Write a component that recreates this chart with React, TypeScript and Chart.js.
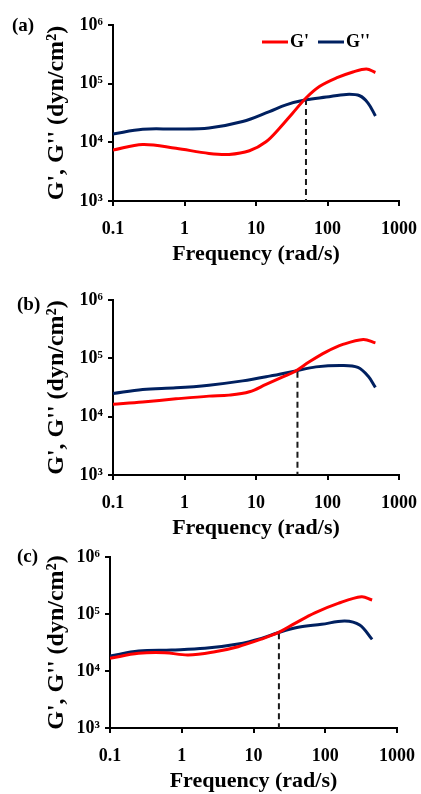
import React, { useEffect, useRef } from "react";
import { Chart, registerables } from "chart.js";

Chart.register(...registerables);

// ---------- shared axis data ----------
const X_TICKS = [0.1, 1, 10, 100, 1000];
const X_TICK_LABELS = ["0.1", "1", "10", "100", "1000"];
const Y_TICKS = [1e3, 1e4, 1e5, 1e6];
const Y_TICK_LABELS = ["10³", "10⁴", "10⁵", "10⁶"];
const SERIES_NAMES = ["G'", "G''"];
const X_TITLE = "Frequency (rad/s)";
const Y_TITLE = "G', G'' (dyn/cm²)";
const PANEL_LABELS = ["(a)", "(b)", "(c)"];

// ---------- panel (a) ----------
const FREQ_A_GP = [0.1, 0.26, 0.76, 2.2, 4.2, 8.1, 13.8, 21.3, 32.5, 50, 78, 133, 227, 350, 468];
const GP_A = [7400, 9200, 7900, 6480, 6230, 7180, 10240, 17400, 31400, 56900, 90000, 125000, 158000, 178000, 155000];
const FREQ_A_GPP = [0.1, 0.26, 0.76, 2.2, 6.5, 15.4, 26.3, 50, 96, 183, 282, 369, 468];
const GPP_A = [13900, 16700, 16900, 17600, 22600, 33500, 43600, 53000, 59000, 65600, 62200, 46700, 28200];
const CROSS_A = [50, 54600];

// ---------- panel (b) ----------
const FREQ_B_GP = [0.1, 0.26, 0.76, 2.2, 4.2, 8.1, 13.8, 23.7, 34.5, 55.7, 96, 164, 316, 468];
const GP_B = [16400, 17900, 20200, 22500, 23400, 26700, 35700, 48200, 58900, 87300, 129000, 173000, 211000, 184000];
const FREQ_B_GPP = [0.1, 0.26, 0.76, 2.2, 6.5, 15.4, 34.5, 69, 164, 266, 369, 468];
const GPP_B = [25000, 29300, 31200, 34700, 41100, 49500, 60300, 71400, 75500, 69800, 49600, 31700];
const CROSS_B = [38, 58700];

// ---------- panel (c) ----------
const FREQ_C_GP = [0.1, 0.25, 0.58, 1.23, 2.9, 6.1, 12.9, 22, 37.8, 71.6, 151, 320, 450];
const GP_C = [16700, 20400, 20900, 19100, 21800, 26700, 36300, 47000, 68600, 105000, 154000, 201000, 176000];
const FREQ_C_GPP = [0.1, 0.25, 0.72, 2.1, 6.1, 12.9, 22, 42, 89, 187, 302, 450];
const GPP_C = [18300, 22400, 23400, 25000, 29800, 37400, 47000, 58400, 65900, 75300, 64100, 35900];
const CROSS_C = [22.6, 45800];

const RED = "#FF0000";
const NAVY = "#002060";
const FONT = "'Liberation Serif', 'Times New Roman', Times, serif";
const W = 421;

type Area = { left: number; top: number; right: number; bottom: number };
type PanelCfg = {
  label: string;
  labelLeft: number;
  labelCenter: number;
  top: number;
  height: number;
  area: Area;
  xTitlePad: number;
  legend: boolean;
  gpX: number[];
  gp: number[];
  gppX: number[];
  gpp: number[];
  cross: number[];
};

const PANELS: PanelCfg[] = [
  {
    label: PANEL_LABELS[0], labelLeft: 12, labelCenter: 25,
    top: 0, height: 266,
    area: { left: 113, top: 25, right: 399, bottom: 201 },
    xTitlePad: 1, legend: true,
    gpX: FREQ_A_GP, gp: GP_A, gppX: FREQ_A_GPP, gpp: GPP_A, cross: CROSS_A,
  },
  {
    label: PANEL_LABELS[1], labelLeft: 17, labelCenter: 304,
    top: 266, height: 275,
    area: { left: 113, top: 34, right: 399, bottom: 209 },
    xTitlePad: 2, legend: false,
    gpX: FREQ_B_GP, gp: GP_B, gppX: FREQ_B_GPP, gpp: GPP_B, cross: CROSS_B,
  },
  {
    label: PANEL_LABELS[2], labelLeft: 17, labelCenter: 556,
    top: 541, height: 253,
    area: { left: 110, top: 16, right: 397, bottom: 187 },
    xTitlePad: 2, legend: false,
    gpX: FREQ_C_GP, gp: GP_C, gppX: FREQ_C_GPP, gpp: GPP_C, cross: CROSS_C,
  },
];

const customLegend = {
  id: "customLegend",
  afterDraw(chart: any, _args: any, opts: any) {
    if (!opts || !opts.show) return;
    const ctx = chart.ctx;
    ctx.save();
    ctx.font = `bold ${opts.fontSize}px ${FONT}`;
    ctx.textBaseline = "middle";
    ctx.textAlign = "left";
    let x = opts.x;
    const y = opts.y;
    chart.data.datasets.slice(0, 2).forEach((ds: any) => {
      ctx.strokeStyle = ds.borderColor;
      ctx.lineWidth = ds.borderWidth;
      ctx.beginPath();
      ctx.moveTo(x, y);
      ctx.lineTo(x + opts.lineLen, y);
      ctx.stroke();
      x += opts.lineLen + opts.gap;
      ctx.fillStyle = "#000";
      ctx.fillText(ds.label, x, y);
      x += ctx.measureText(ds.label).width + opts.itemGap;
    });
    ctx.restore();
  },
};

function Panel({ cfg }: { cfg: PanelCfg }) {
  const ref = useRef<HTMLCanvasElement>(null);
  useEffect(() => {
    const canvas = ref.current;
    if (!canvas) return;
    const { area, height } = cfg;
    const tickFont = { family: FONT, size: 18, weight: "bold" as const };
    const chart = new Chart(canvas, {
      type: "line",
      data: {
        datasets: [
          {
            label: SERIES_NAMES[0],
            data: cfg.gpX.map((x, i) => ({ x, y: cfg.gp[i] })),
            borderColor: RED,
            backgroundColor: RED,
            borderWidth: 3,
            pointRadius: 0,
            tension: 0.35,
            fill: false,
          },
          {
            label: SERIES_NAMES[1],
            data: cfg.gppX.map((x, i) => ({ x, y: cfg.gpp[i] })),
            borderColor: NAVY,
            backgroundColor: NAVY,
            borderWidth: 3,
            pointRadius: 0,
            tension: 0.35,
            fill: false,
          },
          {
            label: "crossover",
            data: [
              { x: cfg.cross[0], y: cfg.cross[1] },
              { x: cfg.cross[0], y: Y_TICKS[0] },
            ],
            borderColor: "#1a1a1a",
            backgroundColor: "#1a1a1a",
            borderWidth: 2,
            borderDash: [6, 4],
            pointRadius: 0,
            tension: 0,
            fill: false,
          },
        ],
      } as any,
      options: {
        responsive: false,
        animation: false,
        devicePixelRatio: 1,
        events: [],
        layout: { padding: { left: 0, top: area.top, right: W - area.right, bottom: 0 } },
        scales: {
          x: {
            type: "logarithmic",
            min: X_TICKS[0],
            max: X_TICKS[X_TICKS.length - 1],
            afterBuildTicks: (s: any) => {
              s.ticks = X_TICKS.map((v) => ({ value: v }));
            },
            afterFit: (s: any) => {
              s.height = height - area.bottom;
              s.paddingLeft = 0;
              s.paddingRight = 0;
            },
            ticks: {
              autoSkip: false,
              maxRotation: 0,
              minRotation: 0,
              padding: 13,
              color: "#000",
              font: tickFont,
              callback: (_v: any, i: number) => X_TICK_LABELS[i],
            },
            grid: { drawOnChartArea: false, drawTicks: true, tickLength: 5, color: "#000", lineWidth: 2 },
            border: { display: true, color: "#000", width: 2 },
            title: {
              display: true,
              text: X_TITLE,
              color: "#000",
              font: { family: FONT, size: 22, weight: "bold", lineHeight: 1 },
              padding: { top: 0, bottom: cfg.xTitlePad },
            },
          },
          y: {
            type: "logarithmic",
            position: "left",
            min: Y_TICKS[0],
            max: Y_TICKS[Y_TICKS.length - 1],
            afterBuildTicks: (s: any) => {
              s.ticks = Y_TICKS.map((v) => ({ value: v }));
            },
            afterFit: (s: any) => {
              s.width = area.left;
              s.paddingTop = 0;
              s.paddingBottom = 0;
            },
            ticks: {
              autoSkip: false,
              padding: 5,
              color: "#000",
              font: tickFont,
              callback: (_v: any, i: number) => Y_TICK_LABELS[i],
            },
            grid: { drawOnChartArea: false, drawTicks: true, tickLength: 5, color: "#000", lineWidth: 2 },
            border: { display: true, color: "#000", width: 2 },
            title: {
              display: true,
              text: Y_TITLE,
              color: "#000",
              font: { family: FONT, size: 24, weight: "bold", lineHeight: 1 },
              padding: { top: 45, bottom: 0 },
            },
          },
        },
        plugins: {
          legend: { display: false },
          tooltip: { enabled: false },
          customLegend: {
            show: cfg.legend,
            x: 262,
            y: 42,
            lineLen: 26,
            gap: 2,
            itemGap: 9,
            fontSize: 18,
          },
        } as any,
      },
      plugins: [customLegend],
    });
    return () => chart.destroy();
  }, [cfg]);

  return (
    <>
      <canvas
        ref={ref}
        width={W}
        height={cfg.height}
        style={{ position: "absolute", left: 0, top: cfg.top, width: W, height: cfg.height }}
      />
      <div
        style={{
          position: "absolute",
          left: cfg.labelLeft,
          top: cfg.labelCenter - 11,
          fontFamily: FONT,
          fontWeight: "bold",
          fontSize: 19,
          lineHeight: "22px",
          color: "#000",
        }}
      >
        {cfg.label}
      </div>
    </>
  );
}

export default function App() {
  return (
    <div style={{ position: "absolute", left: 0, top: 0, width: W, height: 794, background: "#fff" }}>
      {PANELS.map((p) => (
        <Panel key={p.label} cfg={p} />
      ))}
    </div>
  );
}
